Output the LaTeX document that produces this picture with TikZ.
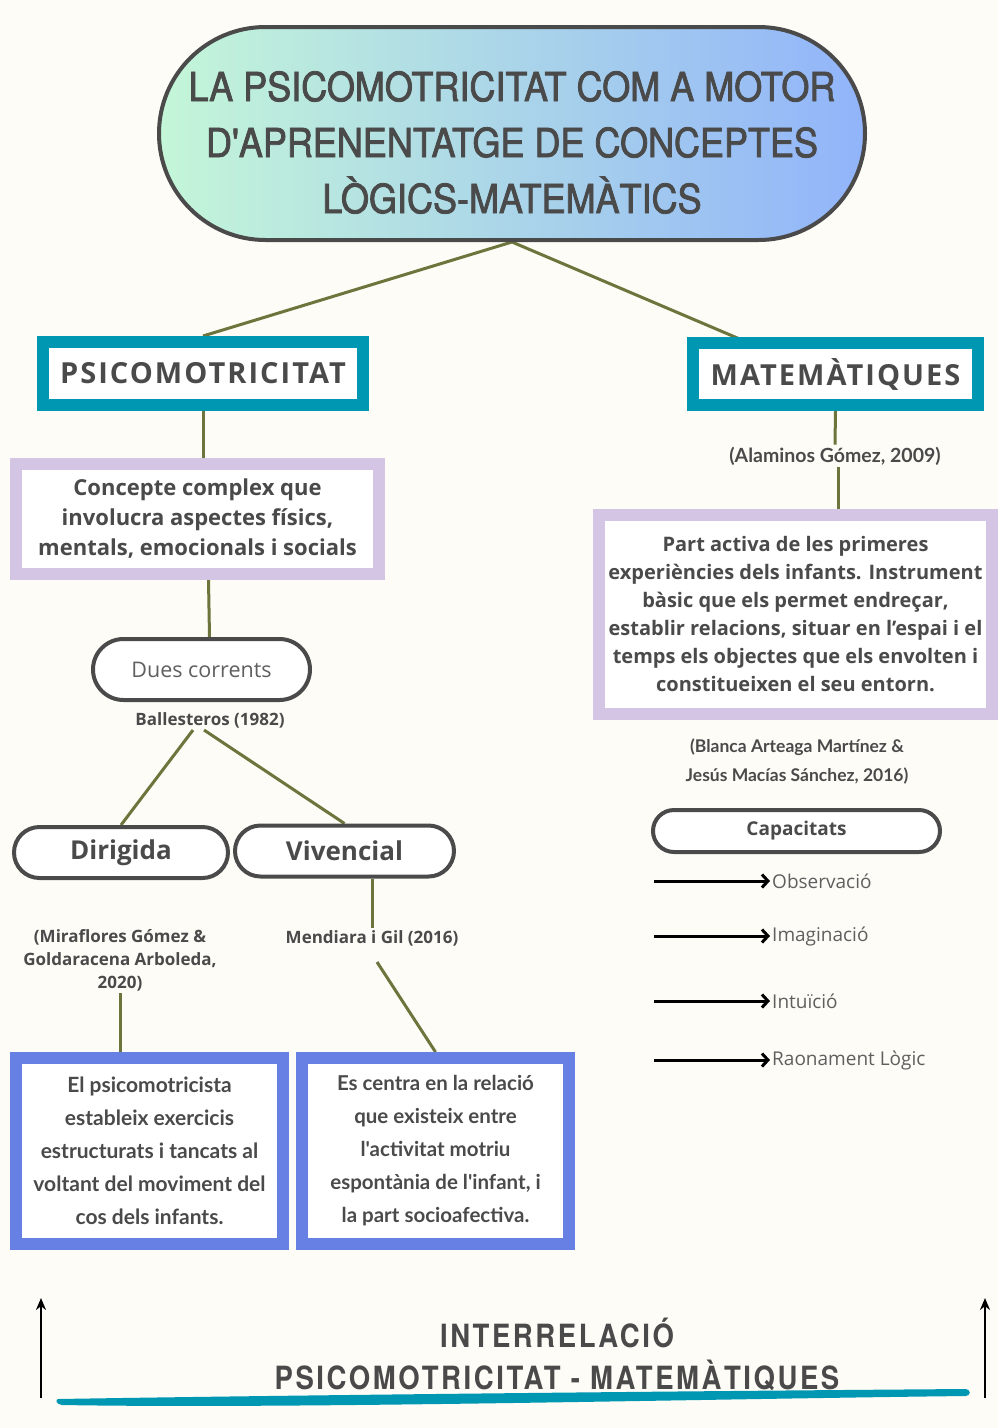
\documentclass[tikz,border=0pt]{standalone}
\usepackage{fontspec}
\setmainfont{Open Sans}
\newfontfamily\titlefont[FakeStretch=0.9,FakeBold=2]{TeX Gyre Heros}
\newfontfamily\headfont[LetterSpace=7]{Open Sans}
\newfontfamily\citefont{Lato}
\newfontfamily\bottomfont[FakeStretch=0.86,LetterSpace=8]{TeX Gyre Heros}
\usetikzlibrary{shapes.misc,calc,arrows.meta}
\pgfdeclarelayer{bg}
\pgfsetlayers{bg,main}

\definecolor{cream}{RGB}{253,252,246}
\definecolor{olive}{RGB}{107,117,60}
\definecolor{boxteal}{RGB}{0,151,178}
\definecolor{lilac}{RGB}{213,197,229}
\definecolor{boxblue}{RGB}{102,128,227}
\definecolor{ink}{RGB}{74,74,74}
\definecolor{softink}{RGB}{95,95,95}
\definecolor{mint}{RGB}{196,246,216}
\definecolor{sky}{RGB}{145,180,250}

\tikzset{
  link/.style={draw=olive, line width=3pt},
  titlebox/.style={rounded rectangle, draw=ink, line width=4pt, left color=mint, right color=sky,
    minimum width=706pt, minimum height=213pt, inner sep=0pt},
  titletext/.style={align=center, text=ink, inner sep=0pt,
    font=\titlefont\fontsize{40}{56}\selectfont},
  framebox/.style={rectangle, line width=12pt, fill=white, inner sep=0pt, align=center, text=ink},
  headbox/.style={framebox, draw=boxteal, font=\headfont\bfseries\fontsize{29}{34}\selectfont},
  pill/.style={rounded rectangle, draw=ink, line width=4pt, fill=white, inner sep=0pt, text=ink},
  cite/.style={text=ink, align=center, inner sep=2pt, font=\bfseries\fontsize{17}{23}\selectfont},
  item/.style={anchor=west, inner sep=2pt, text=softink, font=\fontsize{19}{23}\selectfont},
  itemarrow/.style={line width=3pt, -{Straight Barb[length=6pt,width=13pt]}},
  uparrow/.style={line width=2pt, -{Stealth[length=12pt,width=10pt]}}
}

\begin{document}
\begin{tikzpicture}[x=1pt, y=-1pt]
\useasboundingbox (0,0) rectangle (998,1428);

% title
\node[titlebox] (title) at (512,133.5) {};
\node[titletext] (titletxt) at ($(title.center)+(0,9)$) {LA PSICOMOTRICITAT COM A MOTOR\\D'APRENENTATGE DE CONCEPTES\\LÒGICS-MATEMÀTICS};

% left branch
\node[headbox, minimum width=320pt, minimum height=63pt] (psico) at (203,373.5) {PSICOMOTRICITAT};
\node[framebox, draw=lilac, minimum width=363pt, minimum height=110pt,
  font=\bfseries\fontsize{22}{30}\selectfont] (concept) at (197.5,519)
  {Concepte complex que\\involucra aspectes físics,\\mentals, emocionals i socials};
\node[pill, minimum width=217pt, minimum height=61pt, text=softink,
  font=\fontsize{21.5}{25}\selectfont] (dues) at (201.5,669.5) {Dues corrents};
\node[cite] (ball) at (210,720) {Ballesteros (1982)};
\node[pill, minimum width=214pt, minimum height=51pt,
  font=\bfseries\fontsize{26}{30}\selectfont] (dir) at (121,852.5) {Dirigida};
\node[pill, minimum width=219pt, minimum height=51pt,
  font=\bfseries\fontsize{26}{30}\selectfont] (viv) at (344.5,851) {Vivencial};
\node[cite] (mend) at (372,938) {Mendiara i Gil (2016)};
\node[cite] (mira) at (120,960)
  {(Miraflores Gómez \&\\Goldaracena Arboleda,\\2020)};
\node[framebox, draw=boxblue, minimum width=267pt, minimum height=186pt,
  font=\citefont\bfseries\fontsize{21}{33}\selectfont] (bleft) at (149.5,1151)
  {El psicomotricista\\estableix exercicis\\estructurats i tancats al\\voltant del moviment del\\cos dels infants.};
\node[framebox, draw=boxblue, minimum width=267pt, minimum height=186pt,
  font=\citefont\bfseries\fontsize{20.5}{33}\selectfont] (bright) at (435.5,1151)
  {Es centra en la relació\\que existeix entre\\l'activitat motriu\\espontània de l'infant, i\\la part socioafectiva.};

% right branch
\coordinate (mtop) at (742,340);
\node[headbox, minimum width=285pt, minimum height=62pt] (mate) at (835.5,374) {MATEMÀTIQUES};
\node[cite, font=\citefont\bfseries\fontsize{19.5}{23}\selectfont] (alam) at (835,456) {(Alaminos Gómez, 2009)};
\node[framebox, draw=lilac, minimum width=393pt, minimum height=199pt,
  font=\bfseries\fontsize{20}{28}\selectfont] (part) at (795.5,614.5)
  {Part activa de les primeres\\experiències dels infants. Instrument\\bàsic que els permet endreçar,\\establir relacions, situar en l’espai i el\\temps els objectes que els envolten i\\constitueixen el seu entorn.};
\node[cite, font=\citefont\bfseries\fontsize{17.5}{29}\selectfont] (blanca) at (797,762)
  {(Blanca Arteaga Martínez \&\\Jesús Macías Sánchez, 2016)};
\node[pill, minimum width=287pt, minimum height=42pt,
  font=\bfseries\fontsize{19}{23}\selectfont] (capa) at (796.5,831) {Capacitats};
\foreach \y/\nm/\txt in {881/obs/Observació, 936/ima/Imaginació, 1001/intu/Intuïció, 1060/rao/Raonament Lògic} {
  \node[item] (\nm) at (770,\y) {\txt};
  \draw[itemarrow] (654,\y) -- (\nm.west);
}

% bottom
\node[text=ink, align=center, font=\bottomfont\bfseries\fontsize{32}{42}\selectfont] (inter) at (557,1354)
  {INTERRELACIÓ\\PSICOMOTRICITAT - MATEMÀTIQUES};
\coordinate (la) at (41,1398);
\coordinate (lb) at (41,1298);
\coordinate (ra) at (985,1398);
\coordinate (rb) at (985,1298);
\draw[uparrow] (la) -- (lb);
\draw[uparrow] (ra) -- (rb);
\fill[boxteal] (58,1399) .. controls (300,1395) and (700,1391) .. (966,1389)
  .. controls (971,1390) and (971,1395) .. (966,1396)
  .. controls (700,1399) and (300,1409) .. (62,1405)
  .. controls (56,1404) and (55,1400) .. (58,1399) -- cycle;

% connectors
\begin{pgfonlayer}{bg}
\fill[cream] (0,0) rectangle (998,1428);
\draw[link] (title.south) -- (psico.north);
\draw[link] (title.south) -- (mtop);
\draw[link] (psico.south) -- (psico.south |- concept.north);
\draw[link] ($(concept.south)+(11,0)$) -- ($(dues.north)+(8,0)$);
\draw[link] ($(ball.south)+(-17,0)$) -- (dir.north);
\draw[link] ($(ball.south)+(-6,0)$) -- (viv.north);
\coordinate (v1) at ($(viv.south)+(28,0)$);
\draw[link] (v1) -- (v1 |- mend.north);
\draw[link] ($(mend.south)+(5,14)$) -- (bright.north);
\draw[link] (mira.south) -- (mira.south |- bleft.north);
\draw[link] (mate.south) -- (alam.north);
\coordinate (a1) at ($(alam.south)+(3,0)$);
\draw[link] (a1) -- (a1 |- part.north);
\end{pgfonlayer}
\end{tikzpicture}
\end{document}
